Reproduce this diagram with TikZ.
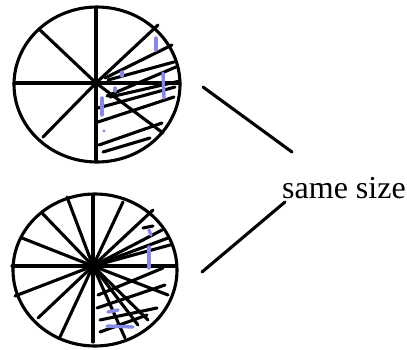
\documentclass[tikz,border=0pt]{standalone}
\usepackage{fontspec}
\setmainfont{Liberation Serif}
\definecolor{marker}{RGB}{135,135,235}
\begin{document}
\begin{tikzpicture}[x=1pt,y=-1pt,
  ink/.style={line width=3.1pt,line cap=round,black},
  hilite/.style={line width=3.4pt,line cap=round,marker}]
\useasboundingbox (0,0) rectangle (407,349);
% ---------- top circle ----------
\coordinate (tc) at (96,83);
\draw[ink] (97,84.5) ellipse [x radius=83, y radius=77.5];
\draw[ink] (96,8) -- (96,161);
\draw[ink] (14,83) -- (180,83);
\draw[ink] (40,30) -- (tc) -- (43,137);
\draw[ink] (tc) -- (163,133);
\draw[ink] (tc) -- (158,25);
% hatching
\draw[ink] (105,78) -- (172,45);
\draw[ink] (108,80) -- (174,62);
\draw[ink] (107,96) -- (176,67);
\draw[ink] (110,97) -- (180,81);
\draw[ink] (98,108) -- (175,87);
\draw[ink] (98,122) -- (174,97);
\draw[ink] (99,145) -- (162,123);
\draw[ink] (103,152) -- (150,138);
% marker
\draw[hilite] (156,38) -- (156,50);
\draw[hilite] (163,73) -- (164,98);
\draw[hilite] (122,72) -- (122,76);
\draw[hilite] (115,88) -- (115,91);
\draw[hilite] (102,98) -- (102,115);
\fill[marker] (104,131) circle (1.7);
% ---------- bottom circle ----------
\coordinate (bc) at (93,266);
\draw[ink] (95,270) ellipse [x radius=82, y radius=76];
\draw[ink] (93,195) -- (93,342);
\draw[ink] (12,266) -- (175,266);
\foreach \p in {(67,197),(42,213),(22,238),(15,296),(38,318),(60,337),
                (123,202),(125,338),(153,210),(162,230),(168,238),(170,245),
                (168,295),(148,320),(138,325)}
  \draw[ink] (bc) -- \p;
\draw[ink] (143,228) -- (153,226);
% hatching
\draw[ink] (97,308) -- (165,285);
\draw[ink] (98,295) -- (163,268);
\draw[ink] (100,320) -- (157,308);
\draw[ink] (100,332) -- (147,315);
% marker
\draw[hilite] (149,230) -- (151,235);
\draw[hilite] (149,247) -- (149,268);
\draw[hilite] (108,312) -- (118,310);
\draw[hilite] (107,326) -- (133,327);
% ---------- label ----------
\node[anchor=base west,inner sep=0pt,font=\fontsize{32}{32}\selectfont] (lbl) at (282,198) {same size};
\coordinate (l1a) at (203,87);
\coordinate (l1b) at (292,152);
\coordinate (l2a) at (285,202);
\coordinate (l2b) at (202,272);
\draw[ink] (l1a) -- (l1b);
\draw[ink] (l2a) -- (l2b);
\end{tikzpicture}
\end{document}
